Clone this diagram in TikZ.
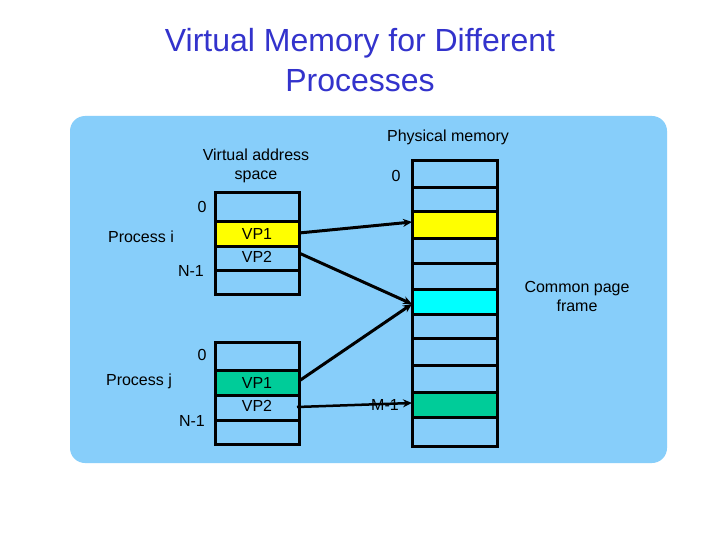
\documentclass[tikz,border=0pt]{standalone}
\usepackage{fontspec}
\usetikzlibrary{arrows.meta}
\setmainfont{Liberation Sans}
\begin{document}
\begin{tikzpicture}[x=1pt,y=-1pt,
  lbl/.style={inner sep=0pt,font=\fontsize{16}{19}\selectfont,align=center},
  cell/.style={draw=black,line width=3pt},
  arr/.style={line width=3pt,-{Stealth[length=9pt,width=8pt]}}]
\definecolor{bg}{RGB}{135,206,250}
\definecolor{ttl}{RGB}{51,51,204}
\definecolor{yel}{RGB}{255,255,0}
\definecolor{cy}{RGB}{0,255,255}
\definecolor{gr}{RGB}{0,204,153}
\useasboundingbox (0,0) rectangle (720,540);
\fill[white] (0,0) rectangle (720,540);
\fill[bg,rounded corners=15pt] (70,116) rectangle (667,463);
\node[lbl,text=ttl,font=\fontsize{32}{40}\selectfont] (title) at (360,60) {Virtual Memory for Different\\Processes};
% process i
\fill[yel] (215,222) rectangle (299,246);
\foreach \y in {222,246,270} \draw[line width=3pt] (215,\y) -- (299,\y);
\draw[cell] (215,193) rectangle (299,294);
% process j
\fill[gr] (215,370) rectangle (299,395);
\foreach \y in {370,395,420} \draw[line width=3pt] (215,\y) -- (299,\y);
\draw[cell] (215,342) rectangle (299,444);
% physical
\fill[yel] (412,212) rectangle (497,238);
\fill[cy] (412,289) rectangle (497,314);
\fill[gr] (412,392) rectangle (497,417);
\foreach \y in {188,212,238,263,289,314,338,365,392,417} \draw[line width=3pt] (412,\y) -- (497,\y);
\draw[cell] (412,161) rectangle (497,446);
\coordinate (ivp1) at (299,233);
\coordinate (ivp2) at (299,253);
\coordinate (jvp1) at (299,381);
\coordinate (jvp2) at (297,407);
\coordinate (pyel) at (412,222);
\coordinate (pcy) at (412,304);
\coordinate (pgr) at (412,403);
\node[lbl] (vpi1) at (257,234) {VP1};
\node[lbl] (vpi2) at (257,257) {VP2};
\node[lbl] (vpj1) at (257,383) {VP1};
\node[lbl] (vpj2) at (257,406) {VP2};
\node[lbl] (mm) at (385,405) {M-1};
\draw[arr] (ivp1) -- (pyel);
\draw[arr] (ivp2) -- (pcy);
\draw[arr] (jvp1) -- (pcy);
\draw[arr,line width=2.5pt] (jvp2) -- (pgr);
\node[lbl] (vas) at (256,166) {Virtual address\\space};
\node[lbl] (pm) at (448,137) {Physical memory};
\node[lbl] (p0) at (396,176) {0};
\node[lbl] (i0) at (202,207) {0};
\node[lbl] (pi) at (141,237) {Process i};
\node[lbl] (in) at (191,271) {N-1};
\node[lbl] (cpf) at (577,296) {Common page\\frame};
\node[lbl] (j0) at (202,355) {0};
\node[lbl] (pj) at (139,381) {Process j};
\node[lbl] (jn) at (192,421) {N-1};
\end{tikzpicture}
\end{document}
